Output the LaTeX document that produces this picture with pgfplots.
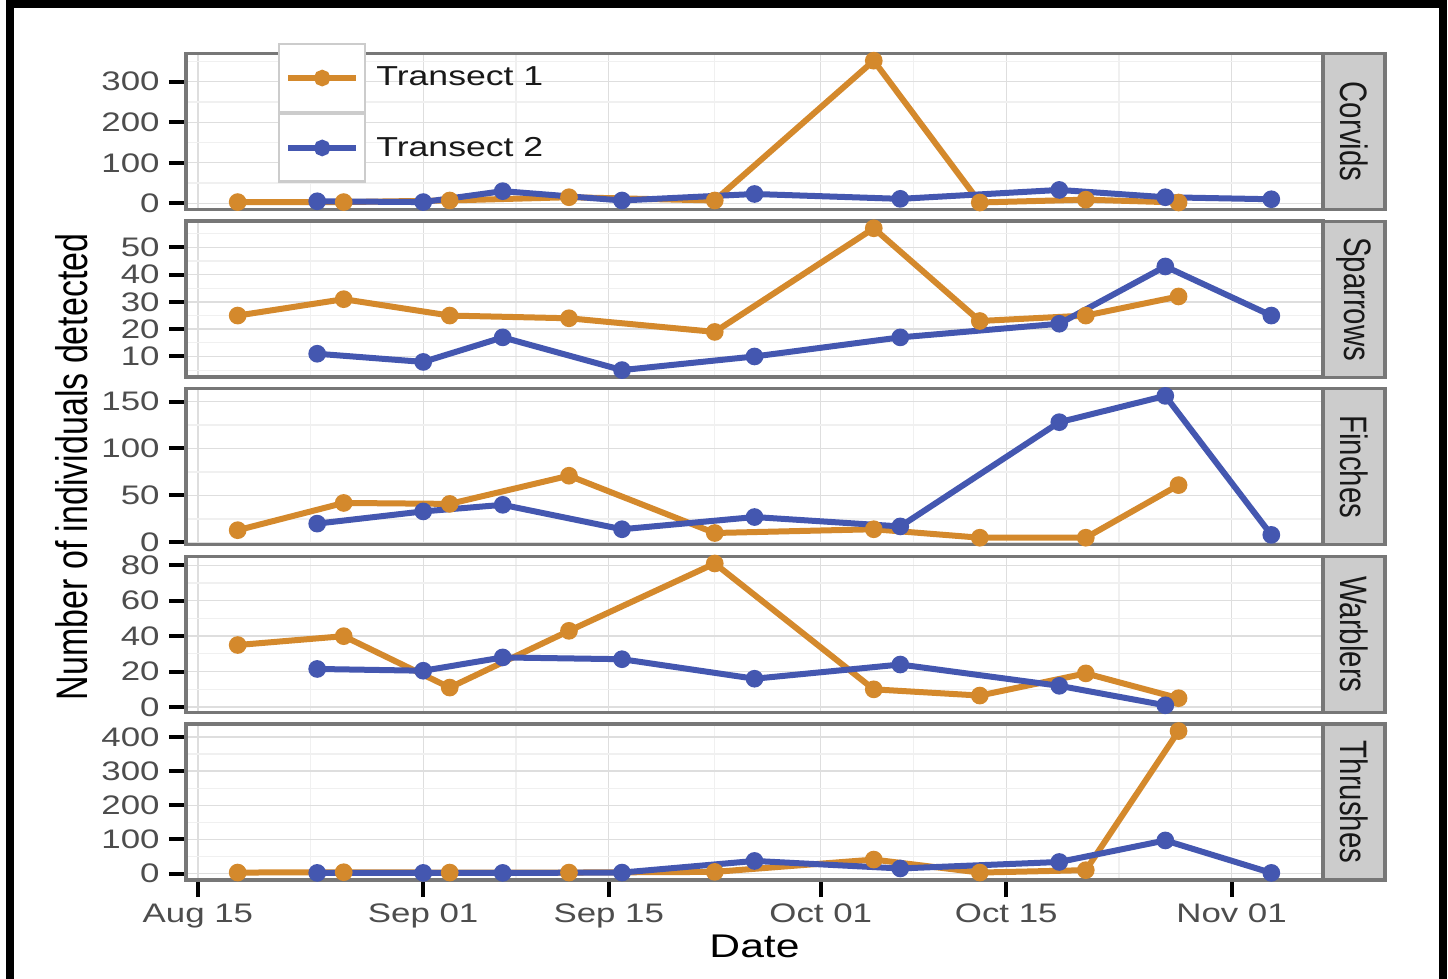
\documentclass[border=0pt]{standalone}
\usepackage{pgfplots}
\pgfplotsset{compat=1.18}
\usepackage{fontspec}
\usepackage{graphicx}
\setmainfont{Liberation Sans}[FakeStretch=1.3]
\newfontfamily\rotfont{Liberation Sans}
\definecolor{tone}{HTML}{D4892C}
\definecolor{ttwo}{HTML}{4457B0}
\definecolor{panelborder}{HTML}{777777}
\definecolor{stripfill}{HTML}{CCCCCC}
\definecolor{ticklab}{HTML}{4D4D4D}
\definecolor{gridmaj}{HTML}{DEDEDE}
\definecolor{gridmin}{HTML}{F0F0F0}
\definecolor{keyborder}{HTML}{CCCCCC}

\pgfplotsset{
  t1/.style={color=tone, line width=3bp, mark=*, mark size=2.9bp, mark options={solid}},
  t2/.style={color=ttwo, line width=3bp, mark=*, mark size=2.9bp, mark options={solid}},
  strip/.style={after end axis/.append code={
      \draw[fill=stripfill, draw=panelborder, line width=1.6bp] (rel axis cs:1,0) rectangle ([xshift=31bp]rel axis cs:1,1);
      \node[rotate=-90, font=\rotfont\fontsize{14.7bp}{16bp}\selectfont, text=black!90] at ([xshift=15.5bp]rel axis cs:1,0.5) {\scalebox{1}[1.3]{#1}};
  }},
  panel/.style={
    width=568.5bp, height=78bp, scale only axis,
    anchor=south west,
    xmin=-0.9, xmax=84.9,
    xtick={0,17,31,47,61,78},
    minor xtick={8.5,24,39,54,69.5},
    xticklabels={},
    xtick style={draw=none},
    grid=both,
    major grid style={gridmaj, line width=0.7bp},
    minor grid style={gridmin, line width=0.6bp},
    axis line style={panelborder, line width=1.7bp},
    tick align=outside,
    ytick pos=left,
    xtick pos=bottom,
    major tick length=8.5bp,
    minor tick length=0pt,
    ytick style={draw=black, line width=2bp},
    tick label style={font=\fontsize{13.4bp}{15bp}\selectfont, text=ticklab},
    yticklabel style={inner sep=1bp, xshift=-3.5bp},
    /pgf/number format/assume math mode=true,
    /pgf/number format/1000 sep={},
    clip=false,
  },
}

\begin{document}
\begin{tikzpicture}
\path[use as bounding box] (0,0) rectangle (724bp,489.5bp);
\fill[white] (0,0) rectangle (724bp,489.5bp);
\draw[black, line width=4bp] (5bp,0) -- (5bp,487.5bp) -- (721.5bp,487.5bp) -- (721.5bp,0);

% Corvids
\begin{axis}[panel, at={(93bp,384.7bp)},
  ymin=-15.5, ymax=369.5, ytick={0,100,200,300}, minor ytick={50,150,250,350},
  strip=Corvids,
  legend cell align=left,
  legend style={at={(axis description cs:0.0809,1.0673)}, anchor=north west,
    draw=none, fill=none, inner sep=0pt, outer sep=0pt, row sep=0pt, column sep=5bp,
    font=\fontsize{13.7bp}{16bp}\selectfont,
    nodes={inner sep=0pt, text=black!90}},
  legend image code/.code={
    \draw[draw=keyborder, fill=white, line width=1.2bp] (0bp,-16.875bp) rectangle (43bp,16.875bp);
    \draw[#1, mark=none] (4.5bp,0bp) -- (38.5bp,0bp);
    \fill[#1] (21.5bp,0bp) circle (2.6bp);
  },
]
\addplot[t1] coordinates {(3,3) (11,3) (19,7) (28,15) (39,7) (51,352) (59,2) (67,9) (74,2)};
\addlegendentry{Transect 1}
\addplot[t2] coordinates {(9,5) (17,3) (23,30) (32,7) (42,23) (53,11) (65,33) (73,15) (81,10)};
\addlegendentry{Transect 2}
\end{axis}

% Sparrows
\begin{axis}[panel, at={(93bp,300.9bp)},
  ymin=2.4, ymax=59.6, ytick={10,20,30,40,50}, minor ytick={5,15,25,35,45,55},
  strip=Sparrows]
\addplot[t1] coordinates {(3,25) (11,31) (19,25) (28,24) (39,19) (51,57) (59,23) (67,25) (74,32)};
\addplot[t2] coordinates {(9,11) (17,8) (23,17) (32,5) (42,10) (53,17) (65,22) (73,43) (81,25)};
\end{axis}

% Finches
\begin{axis}[panel, at={(93bp,217.1bp)},
  ymin=-2.55, ymax=163.55, ytick={0,50,100,150}, minor ytick={25,75,125},
  strip=Finches,
  ylabel={\scalebox{1}[1.3]{Number of individuals detected}},
  ylabel style={font=\rotfont\fontsize{17bp}{19bp}\selectfont, at={(axis description cs:-0.1003,0.5)}, anchor=center, rotate=0}]
\addplot[t1] coordinates {(3,13) (11,42) (19,41) (28,71) (39,10) (51,14) (59,5) (67,5) (74,61)};
\addplot[t2] coordinates {(9,20) (17,33) (23,40) (32,14) (42,27) (53,17) (65,128) (73,156) (81,8)};
\end{axis}

% Warblers
\begin{axis}[panel, at={(93bp,133.3bp)},
  ymin=-3, ymax=85, ytick={0,20,40,60,80}, minor ytick={10,30,50,70},
  strip=Warblers]
\addplot[t1] coordinates {(3,35) (11,40) (19,11) (28,43) (39,81) (51,10) (59,6.5) (67,19) (74,5)};
\addplot[t2] coordinates {(9,21.5) (17,20.5) (23,28) (32,27) (42,16) (53,24) (65,12) (73,1)};
\end{axis}

% Thrushes
\begin{axis}[panel, at={(93bp,49.5bp)},
  ymin=-18.75, ymax=437.75, ytick={0,100,200,300,400}, minor ytick={50,150,250,350},
  strip=Thrushes,
  xticklabels={Aug 15,Sep 01,Sep 15,Oct 01,Oct 15,Nov 01},
  xtick style={draw=black, line width=2bp},
  xlabel={Date},
  xlabel style={font=\fontsize{16.4bp}{18bp}\selectfont, text=black, at={(axis description cs:0.5,-0.423)}, anchor=center}]
\addplot[t1] coordinates {(3,3) (11,4) (19,3) (28,3) (39,5) (51,41) (59,3) (67,10) (74,417)};
\addplot[t2] coordinates {(9,2) (17,2) (23,2) (32,3) (42,37) (53,15) (65,34) (73,97) (81,2)};
\end{axis}
\end{tikzpicture}
\end{document}
